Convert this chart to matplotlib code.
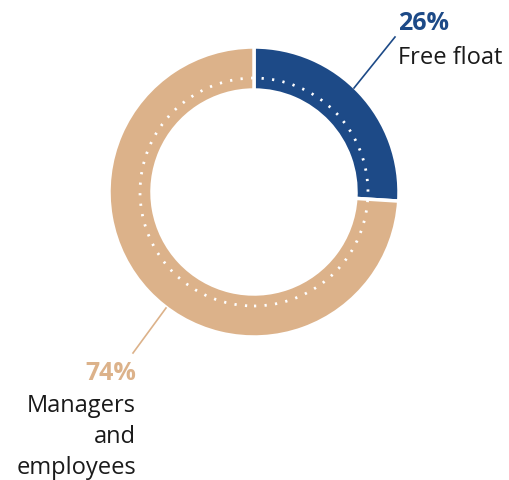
import matplotlib
matplotlib.use("Agg")
import matplotlib.pyplot as plt
from matplotlib.patches import Circle

labels = ["Free float", "Managers\nand\nemployees"]
shares = [26, 74]
colors = ["#1d4a87", "#dcb28a"]

W, H = 509, 480
fig = plt.figure(figsize=(W / 100, H / 100), dpi=100)
ax = fig.add_axes([0, 0, 1, 1])

cx, cy = 254, H - 192
ax.pie(shares, colors=colors, startangle=90, counterclock=False,
       radius=145, center=(cx, cy),
       wedgeprops=dict(width=43, edgecolor="white", linewidth=2.5))
ax.add_patch(Circle((cx, cy), 114, fill=False, edgecolor="white",
                    linewidth=2, linestyle=(0, (0.8, 3))))

ax.set_xlim(0, W)
ax.set_ylim(0, H)
ax.set_aspect("equal")
ax.axis("off")

# leader lines
ax.plot([354, 395], [H - 88, H - 37], color=colors[0], lw=1.2)
ax.plot([166, 133], [H - 308, H - 353], color=colors[1], lw=1.2)

font = "Open Sans"
ax.text(398, H - 24, f"{shares[0]}%", color=colors[0], fontsize=18,
        fontweight="bold", ha="left", va="center", family=font)
ax.text(398, H - 58, labels[0], color="#1a1a1a", fontsize=17,
        ha="left", va="center", family=font)
ax.text(136, H - 373, f"{shares[1]}%", color=colors[1], fontsize=18,
        fontweight="bold", ha="right", va="center", family=font)
for k, line in enumerate(labels[1].split("\n")):
    ax.text(136, H - 406 - 31 * k, line, color="#1a1a1a", fontsize=17,
            ha="right", va="center", family=font)

fig.savefig("out.png", dpi=100)
